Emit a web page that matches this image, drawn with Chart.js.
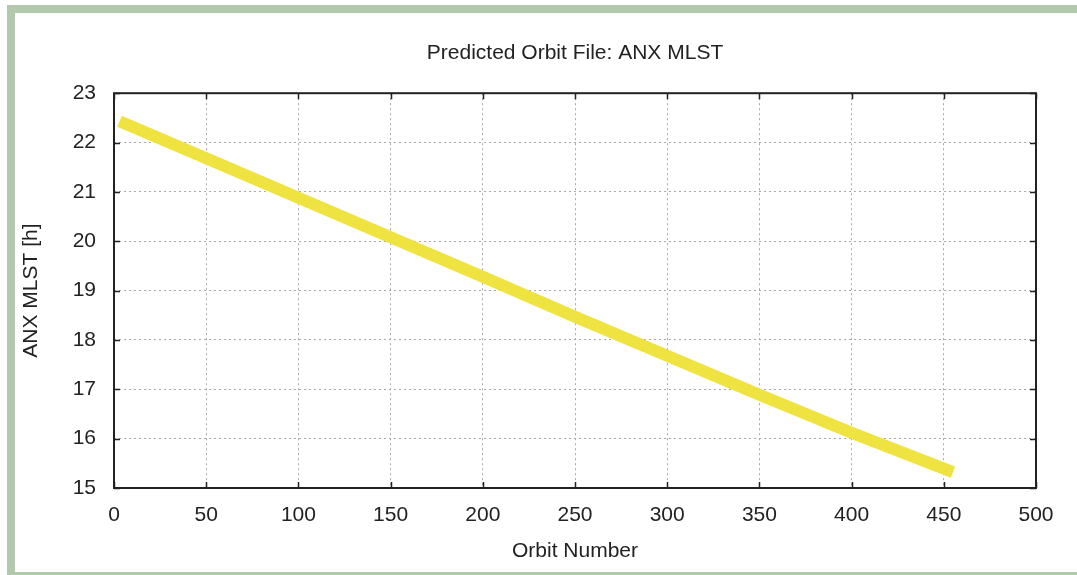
<!DOCTYPE html>
<html>
<head>
<meta charset="utf-8">
<script src="https://cdn.jsdelivr.net/npm/chart.js@4/dist/chart.umd.min.js"></script>
<style>
  html, body { margin: 0; padding: 0; background: #fff; overflow: hidden; }
  #wrap { position: relative; width: 1077px; height: 575px; }
  #frame {
    position: absolute; left: 7px; top: 5px; width: 1100px; height: 575px;
    box-sizing: border-box; border: 8px solid #b3c9ab; border-right: none;
  }
  canvas { position: absolute; left: 0; top: 0; }
</style>
</head>
<body>
<div id="wrap">
  <div id="frame"></div>
  <canvas id="orbitChart" width="1077" height="575"></canvas>
</div>
<script>
// ANX MLST
const orbitNumbers = [3, 50, 100, 150, 200, 250, 300, 350, 400, 455];
const anxMlst = [22.43, 21.68, 20.88, 20.08, 19.28, 18.47, 17.68, 16.89, 16.12, 15.32];

const xTicks = [0, 50, 100, 150, 200, 250, 300, 350, 400, 450, 500];
const yTicks = [15, 16, 17, 18, 19, 20, 21, 22, 23];

const FONT = "'Liberation Sans', Arial, sans-serif";
const TEXT = '#222';

// gnuplot-style frame with inward tick marks on all four sides
const framePlugin = {
  id: 'frame',
  afterDraw(chart) {
    const { ctx, chartArea: a, scales } = chart;
    const len = 6;
    ctx.save();
    ctx.strokeStyle = '#222';
    ctx.lineWidth = 1.5;
    ctx.beginPath();
    scales.x.ticks.forEach(t => {
      const px = Math.round(scales.x.getPixelForValue(t.value)) + 0.5;
      ctx.moveTo(px, a.bottom); ctx.lineTo(px, a.bottom - len);
      ctx.moveTo(px, a.top); ctx.lineTo(px, a.top + len);
    });
    scales.y.ticks.forEach(t => {
      const py = Math.round(scales.y.getPixelForValue(t.value)) + 0.5;
      ctx.moveTo(a.left, py); ctx.lineTo(a.left + len, py);
      ctx.moveTo(a.right, py); ctx.lineTo(a.right - len, py);
    });
    ctx.stroke();
    ctx.lineWidth = 2;
    ctx.strokeRect(a.left, a.top, a.right - a.left, a.bottom - a.top);
    ctx.restore();
  }
};

new Chart(document.getElementById('orbitChart'), {
  type: 'line',
  data: {
    datasets: [{
      label: 'ANX MLST',
      data: orbitNumbers.map((n, i) => ({ x: n, y: anxMlst[i] })),
      borderColor: '#efe341',
      borderWidth: 12,
      borderCapStyle: 'butt',
      pointRadius: 0,
      tension: 0,
      fill: false
    }]
  },
  options: {
    responsive: false,
    animation: false,
    layout: { padding: { left: 0, right: 41, top: 0, bottom: 0 } },
    plugins: {
      legend: { display: false },
      tooltip: { enabled: false },
      title: {
        display: true,
        fullSize: false,
        text: 'Predicted Orbit File: ANX MLST',
        color: TEXT,
        font: { family: FONT, size: 21, weight: 'normal' },
        padding: { top: 41, bottom: 27 }
      }
    },
    scales: {
      x: {
        type: 'linear',
        min: 0, max: 500,
        afterBuildTicks: s => { s.ticks = xTicks.map(v => ({ value: v })); },
        afterFit: s => { s.height = 87; },
        grid: { color: '#a8a8a8', lineWidth: 1, drawTicks: false },
        border: { display: false, dash: [2, 3] },
        ticks: { color: TEXT, padding: 15, font: { family: FONT, size: 21 }, maxRotation: 0 },
        title: {
          display: true, text: 'Orbit Number', color: TEXT,
          font: { family: FONT, size: 21 }, padding: { top: 0, bottom: 11 }
        }
      },
      y: {
        min: 15, max: 23,
        afterBuildTicks: s => { s.ticks = yTicks.map(v => ({ value: v })); },
        afterFit: s => { s.width = 114; },
        grid: { color: '#a8a8a8', lineWidth: 1, drawTicks: false },
        border: { display: false, dash: [2, 3] },
        ticks: { color: TEXT, padding: 18, font: { family: FONT, size: 21 } },
        title: {
          display: true, text: 'ANX MLST [h]', color: TEXT,
          font: { family: FONT, size: 21 }, padding: { top: 19, bottom: 0 }
        }
      }
    }
  },
  plugins: [framePlugin]
});
</script>
</body>
</html>
